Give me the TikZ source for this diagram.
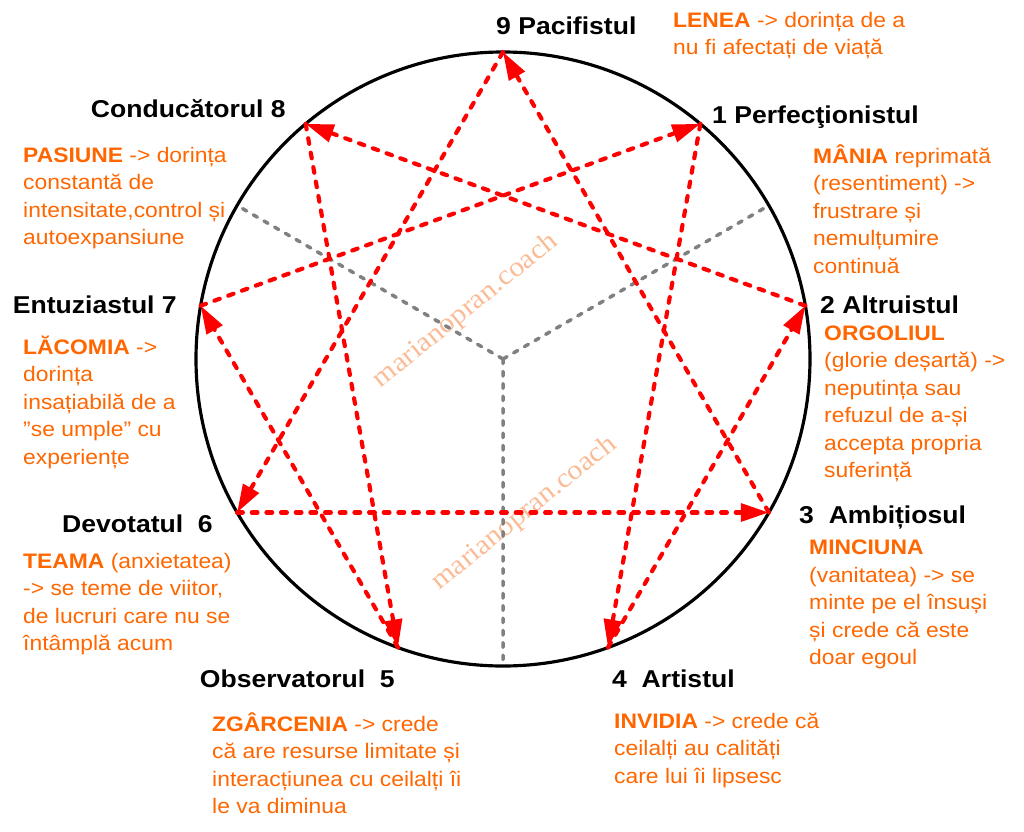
\documentclass[tikz,border=0pt]{standalone}
\usepackage{fontspec}
\setmainfont{Liberation Sans}[FakeStretch=1.09]
\newfontfamily\wmfont{Liberation Serif}[FakeStretch=1.09]
\usetikzlibrary{arrows.meta}
\definecolor{portocaliu}{RGB}{255,102,0}
\definecolor{piersica}{RGB}{250,188,150}
\definecolor{gri}{RGB}{128,128,128}
\newcommand{\primrand}{\rule{0pt}{20pt}}

\begin{document}
\begin{tikzpicture}[line join=round, line cap=round, >={Triangle[length=0.84cm, width=0.53cm]},
	eticheta/.style={font=\fontsize{20.8}{25}\selectfont\bfseries, inner sep=0},
	desc/.style={font=\fontsize{17.9}{23.5}\selectfont, text=portocaliu, align=left, inner sep=0, anchor=north west},
	sageata/.style={->, red, line width=0.125cm, dash pattern=on 0.17cm off 0.27cm},
	axa/.style={gri, line width=0.105cm, dash pattern=on 0.14cm off 0.23cm},
	filigran/.style={font=\wmfont\fontsize{23.5}{28}\selectfont, text=piersica, rotate=39, anchor=base}]
	
	\useasboundingbox (-15.09,-14.16) rectangle (15.63,10.77);
	\def\r{9.21}
	
	\coordinate[] (O) at (0,0);
	\foreach \n/\a in {9/90, 1/50, 2/10, 3/-30, 4/-70, 5/-110, 6/-150, 7/170, 8/130}
		\coordinate (P\n) at (\a:\r);
	\coordinate[] (Q1) at (30:\r);
	\coordinate[] (Q2) at (150:\r);
	\coordinate[] (Q3) at (270:\r);
	
	% filigran
	\node[filigran] (w1) at (-0.99,1.29) {marianopran.coach};
	\node[filigran] (w2) at (0.77,-4.79) {marianopran.coach};
	
	\draw[axa] (O) -- (Q1) (O) -- (Q2) (O) -- (Q3);
	\draw[line width = 0.095cm] (O) circle (\r);
	
	% 9-6-3 si 1-4-2-8-5-7
	\foreach \s/\t in {9/6, 6/3, 3/9, 1/4, 4/2, 2/8, 8/5, 5/7, 7/1}
		\draw[sageata] (P\s) -- (P\t);
	
	\node[eticheta, anchor=base west] (n9) at (-0.21,9.72) {9 Pacifistul};
	\node[eticheta, anchor=base west] (n1) at (6.27,7.08) {1 Perfecţionistul};
	\node[eticheta, anchor=base west] (n2) at (9.51,1.38) {2 Altruistul};
	\node[eticheta, anchor=base west] (n3) at (8.88,-4.92) {3\ \ Ambițiosul};
	\node[eticheta, anchor=base west] (n4) at (3.27,-9.84) {4\ \ Artistul};
	\node[eticheta, anchor=base east] (n5) at (-3.24,-9.84) {Observatorul\ \ 5};
	\node[eticheta, anchor=base east] (n6) at (-8.70,-5.19) {Devotatul\ \ 6};
	\node[eticheta, anchor=base east] (n7) at (-9.78,1.38) {Entuziastul 7};
	\node[eticheta, anchor=base east] (n8) at (-6.51,7.26) {Conducătorul 8};
	
	\node[desc] (d9) at (5.10,10.66) {\primrand\textbf{LENEA} -> dorința de a\\nu fi afectați de viață};
	\node[desc] (d1) at (9.30,6.58) {\primrand\textbf{MÂNIA} reprimată\\(resentiment) ->\\frustrare și\\nemulțumire\\continuă};
	\node[desc] (d2) at (9.63,1.27) {\primrand\textbf{ORGOLIUL}\\(glorie deșartă) ->\\neputința sau\\refuzul de a-și\\accepta propria\\suferință};
	\node[desc] (d3) at (9.18,-5.16) {\primrand\textbf{MINCIUNA}\\(vanitatea) -> se\\minte pe el însuși\\și crede că este\\doar egoul};
	\node[desc] (d4) at (3.33,-10.37) {\primrand\textbf{INVIDIA} -> crede că\\ceilalți au calități\\care lui îi lipsesc};
	\node[desc] (d5) at (-8.73,-10.46) {\primrand\textbf{ZGÂRCENIA} -> crede\\că are resurse limitate și\\interacțiunea cu ceilalți îi\\le va diminua};
	\node[desc] (d6) at (-14.40,-5.57) {\primrand\textbf{TEAMA} (anxietatea)\\-> se teme de viitor,\\de lucruri care nu se\\întâmplă acum};
	\node[desc] (d7) at (-14.40,0.85) {\primrand\textbf{LĂCOMIA} ->\\dorința\\insațiabilă de a\\”se umple” cu\\experiențe};
	\node[desc] (d8) at (-14.40,6.61) {\primrand\textbf{PASIUNE} -> dorința\\constantă de\\intensitate,control și\\autoexpansiune};
	
\end{tikzpicture}
\end{document}
